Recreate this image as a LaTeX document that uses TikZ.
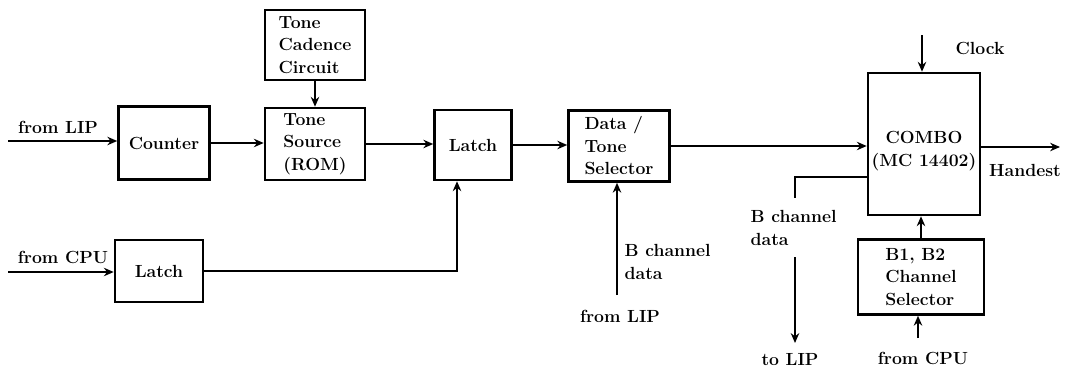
\documentclass[tikz,border=0pt]{standalone}
\usetikzlibrary{arrows.meta,calc}
\tikzset{
	blk/.style={draw, line width=1.8pt, align=left, inner sep=1pt},
	lbl/.style={align=left, inner sep=1pt},
	sig/.style={line width=1.6pt},
	arr/.style={sig, -{Stealth[length=7pt,width=6pt]}},
}
\begin{document}
\begin{tikzpicture}[x=0.025cm,y=-0.025cm,font=\fontsize{12.5}{16}\selectfont\bfseries]
	\useasboundingbox (0,0) rectangle (1074,368);
	% blocks
	\node [blk, minimum width=2.5cm, minimum height=1.75cm] (cadence) at (315,45) {Tone\\Cadence\\Circuit};
	\node [blk, minimum width=2.275cm, minimum height=1.825cm] (counter) at (164,143) {Counter};
	\node [blk, minimum width=2.5cm, minimum height=1.8cm] (source) at (315,144) {Tone\\Source\\(ROM)};
	\node [blk, minimum width=1.925cm, minimum height=1.75cm] (latchA) at (473,145) {Latch};
	\node [blk, minimum width=2.525cm, minimum height=1.775cm] (selector) at (619,146) {Data /\\Tone\\Selector};
	\node [blk, minimum width=2.8cm, minimum height=3.55cm,
		label={[lbl, align=center, yshift=-0.18cm]center:COMBO\\(MC 14402)}] (combo) at (924,144) {};
	\node [blk, minimum width=3.15cm, minimum height=1.875cm] (chansel) at (921,277) {B1, B2\\Channel\\Selector};
	\node [blk, minimum width=2.2cm, minimum height=1.55cm] (latchB) at (159,271) {Latch};
	% top row
	\coordinate (lipA) at (8,141);
	\draw [arr] (lipA) -- (lipA -| counter.west);\node [lbl] (lipAtxt) at (58,127) {from LIP};
	\draw [arr] (counter.east) -- (counter.east -| source.west);
	\draw [arr] (cadence.south) -- (source.north);
	\draw [arr] (source.east) -- (source.east -| latchA.west);
	\draw [arr] (latchA.east) -- (latchA.east -| selector.west);
	\draw [arr] (selector.east) -- (selector.east -| combo.west);
	% lower latch
	\coordinate (cpuA) at (8,272);
	\draw [arr] (cpuA) -- (cpuA -| latchB.west);\node [lbl] (cpuAtxt) at (63,257) {from CPU};
	\draw [arr] (latchB.east) -| ($(latchA.south)+(-16,0)$);
	% B channel in
	\coordinate (lipB) at (617,295);
	\draw [arr] (lipB) -- (lipB |- selector.south);
	\node [lbl, anchor=west] (bdataA) at (623,262) {B channel\\data};
	\node [lbl] (lipBtxt) at (620,316) {from LIP};
	% COMBO
	\coordinate (clk) at (922,35);
	\draw [arr] (clk) -- (clk |- combo.north);\node [lbl] (clktxt) at (980,48) {Clock};
	\coordinate (hs) at (1060,147);
	\draw [arr] (combo.east |- hs) -- (hs);\node [lbl] (hstxt) at (1025,170) {Handest};
	% B channel out
	\coordinate (tapA) at (795,198);
	\coordinate (tapB) at (795,257);
	\coordinate (tolip) at (795,343);
	\draw [sig] (combo.west |- 0,177) -| (tapA);
	\draw [arr] (tapB) -- (tolip);
	\node [lbl, anchor=west] (bdataB) at (749,228) {B channel\\data};
	\node [lbl] (toliptxt) at (790,360) {to LIP};
	% channel selector
	\draw [arr] (chansel.north) -- (chansel.north |- combo.south);
	\coordinate (cpuB) at (918,338);
	\draw [arr] (cpuB) -- (cpuB |- chansel.south);\node [lbl] (cpuBtxt) at (923,358) {from CPU};
\end{tikzpicture}
\end{document}
